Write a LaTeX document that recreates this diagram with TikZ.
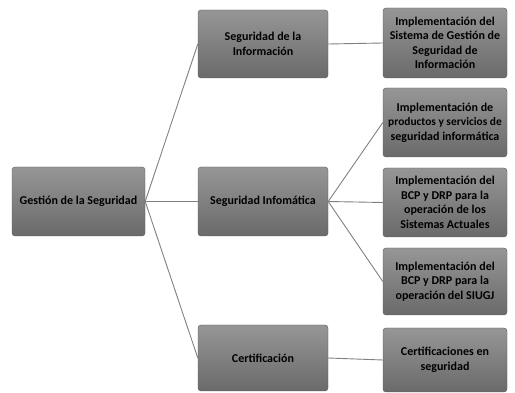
\documentclass[tikz,border=0pt]{standalone}
\usepackage{fontspec}
\setmainfont{Carlito}
\usepackage{tikz}

\definecolor{boxtop}{HTML}{969696}
\definecolor{boxbot}{HTML}{6A6A6A}
\definecolor{boxline}{HTML}{5A5A5A}
\definecolor{linkgray}{HTML}{808080}

\begin{document}
\begin{tikzpicture}[x=1pt,y=-1pt]
    \tikzstyle{every node}=[font=\bfseries\fontsize{12}{14.5}\selectfont, text=black]
    \tikzstyle{box}=[draw=boxline, rounded corners=3pt, top color=boxtop,
      bottom color=boxbot, align=center, inner sep=1pt]
    \tikzstyle{link}=[draw=linkgray, line width=0.9pt]
    \useasboundingbox (0,0) rectangle (515,393);

    \node[box, minimum width=133pt, minimum height=69pt] (root) at (78.5,201.5)
    {Gestión de la Seguridad};

    \node[box, minimum width=130pt, minimum height=68pt] (info) at (263,44)
    {Seguridad de la\\Información};
    \node[box, minimum width=130pt, minimum height=69pt] (infor) at (263,201.5)
    {Seguridad Infomática};
    \node[box, minimum width=130pt, minimum height=66pt] (cert) at (263,358)
    {Certificación};

    \node[box, minimum width=124pt, minimum height=70pt] (sgsi) at (445,43)
    {Implementación del\\Sistema de Gestión de\\Seguridad de\\Información};
    \node[box, minimum width=124pt, minimum height=69pt] (prod) at (445,122.5)
    {Implementación de\\{\fontsize{11.4}{14.5}\selectfont productos y servicios de}\\seguridad informática};
    \node[box, minimum width=124pt, minimum height=69pt] (bcpact) at (445,202.5)
    {Implementación del\\BCP y DRP para la\\operación de los\\Sistemas Actuales};
    \node[box, minimum width=124pt, minimum height=67pt] (bcpsiu) at (445,281.5)
    {Implementación del\\BCP y DRP para la\\operación del SIUGJ};
    \node[box, minimum width=124pt, minimum height=64pt] (certseg) at (445,360)
    {Certificaciones en\\seguridad};

    \draw[link] (root.east) -- (info.west);
    \draw[link] (root.east) -- (infor.west);
    \draw[link] (root.east) -- (cert.west);

    \draw[link] (info.east) -- (sgsi.west);
    \draw[link] (infor.east) -- (prod.west);
    \draw[link] (infor.east) -- (bcpact.west);
    \draw[link] (infor.east) -- (bcpsiu.west);
    \draw[link] (cert.east) -- (certseg.west);

\end{tikzpicture}
\end{document}
